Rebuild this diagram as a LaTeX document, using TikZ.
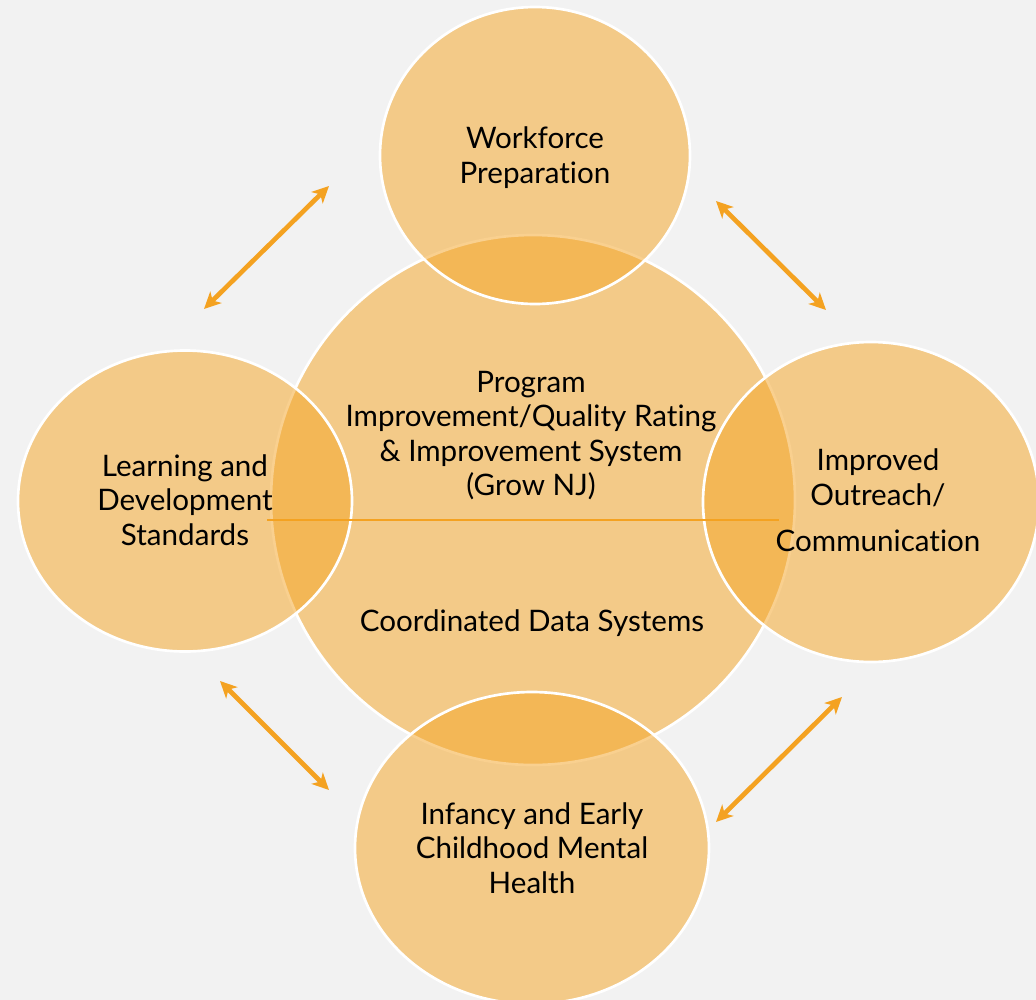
\documentclass[tikz,border=0pt]{standalone}
\usepackage{fontspec}
\setmainfont[Ligatures={NoCommon,NoRare}]{Lato}
\usetikzlibrary{shapes.geometric,arrows.meta}
\definecolor{bgc}{RGB}{242,242,242}
\definecolor{discc}{RGB}{244,166,42}
\definecolor{arrc}{RGB}{244,162,33}
\tikzset{
  disc/.style={ellipse, inner sep=0pt, fill=discc, fill opacity=0.525, draw=white, draw opacity=1, line width=2pt},
  lbl/.style={align=center, text=black, font=\fontsize{22.2}{25.9}\selectfont, inner sep=0pt},
  biarrow/.style={draw=arrc, line width=3.5pt, {Stealth[length=12.5pt,width=12pt,inset=3.5pt]}-{Stealth[length=12.5pt,width=12pt,inset=3.5pt]}},
  midline/.style={draw=arrc, line width=1.7pt}
}
\begin{document}
\begin{tikzpicture}[x=0.75pt,y=-0.75pt]
\clip (0,0) rectangle (1036,1000);
\fill[bgc] (0,0) rectangle (1036,1000);
% discs
\node[disc, minimum width=393pt, minimum height=397.5pt] (core) at (533,500) {};
\node[disc, minimum width=232.5pt, minimum height=222.75pt] (top) at (535,155.5) {};
\node[disc, minimum width=250.5pt, minimum height=225.75pt] (left) at (185,501) {};
\node[disc, minimum width=252pt, minimum height=240pt] (right) at (871,502) {};
\node[disc, minimum width=265.5pt, minimum height=234pt] (bottom) at (532,848) {};
% horizontal line
\coordinate (hl1) at (267,520);
\coordinate (hl2) at (779,520);
\draw[midline] (hl1) -- (hl2);
% arrows
\coordinate (a1s) at (204,309);
\coordinate (a1e) at (329,186);
\coordinate (a2s) at (716,201);
\coordinate (a2e) at (826,310);
\coordinate (a3s) at (220,681);
\coordinate (a3e) at (329,790);
\coordinate (a4s) at (842,697);
\coordinate (a4e) at (716,822);
\draw[biarrow] (a1s) -- (a1e);
\draw[biarrow] (a2s) -- (a2e);
\draw[biarrow] (a3s) -- (a3e);
\draw[biarrow] (a4s) -- (a4e);
% labels
\node[lbl] (ttop) at (535,157.5) {Workforce\\Preparation};
\node[lbl] (tcore) at (531,435.5) {Program\\Improvement/Quality Rating\\\& Improvement System\\(Grow NJ)};
\node[lbl] (tdata) at (532,623) {Coordinated Data Systems};
\node[lbl] (tleft) at (185,500) {Learning and\\Development\\Standards};
\node[lbl] (tright) at (878,500.5) {Improved\\Outreach/\\[9pt]Communication};
\node[lbl] (tbottom) at (532,848) {Infancy and Early\\Childhood Mental\\Health};
\end{tikzpicture}
\end{document}
